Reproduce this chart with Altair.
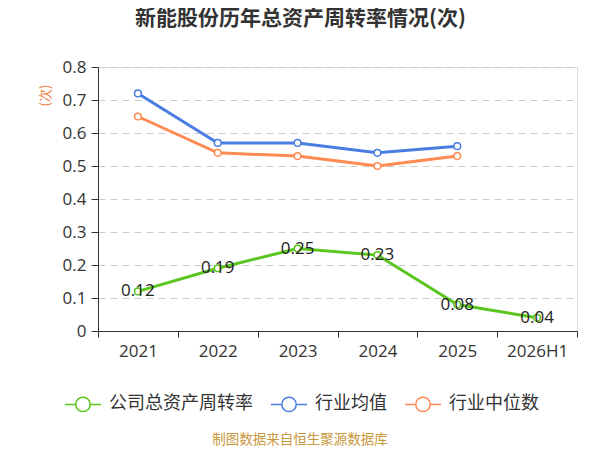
import altair as alt
import pandas as pd

categories = ["2021", "2022", "2023", "2024", "2025", "2026H1"]
company = [0.12, 0.19, 0.25, 0.23, 0.08, 0.04]
industry_mean = [0.72, 0.57, 0.57, 0.54, 0.56]
industry_median = [0.65, 0.54, 0.53, 0.50, 0.53]
series_names = ["公司总资产周转率", "行业均值", "行业中位数"]
series_colors = ["#5BC51F", "#4A7DE2", "#FF8A52"]
title_text = "新能股份历年总资产周转率情况(次)"
source_text = "制图数据来自恒生聚源数据库"
y_ticks = [0, 0.1, 0.2, 0.3, 0.4, 0.5, 0.6, 0.7, 0.8]

rows = []
for c, v in zip(categories, company):
    rows.append({"cat": c, "series": series_names[0], "value": v})
for c, v in zip(categories, industry_mean):
    rows.append({"cat": c, "series": series_names[1], "value": v})
for c, v in zip(categories, industry_median):
    rows.append({"cat": c, "series": series_names[2], "value": v})
df = pd.DataFrame(rows)

FONT = "Open Sans, Noto Sans CJK SC, sans-serif"
CJK = "Noto Sans CJK SC, sans-serif"

legend_path = ("M -1 0 L -0.4 0 M 0.4 0 L 1 0 "
               "M -0.4 0 A 0.4 0.4 0 1 0 0.4 0 A 0.4 0.4 0 1 0 -0.4 0 Z")

x_enc = alt.X("cat:N", sort=categories, title=None,
              scale=alt.Scale(paddingInner=0, paddingOuter=0),
              axis=alt.Axis(labelAngle=0, tickBand="extent", labelFontSize=17,
                            labelFont=FONT, labelColor="#333", labelPadding=6,
                            domainColor="#333", tickColor="#333", tickSize=6,
                            grid=False))
y_enc = alt.Y("value:Q", scale=alt.Scale(domain=[0, 0.8], nice=False),
              axis=alt.Axis(values=y_ticks, format=".1~f", title="(次)",
                            titleColor="#F07A3A", titleFont=CJK, titleFontSize=13,
                            titleFontWeight="normal", titleAngle=-90,
                            titleX=-53, titleY=28, titleAlign="center",
                            titleBaseline="middle",
                            labelFontSize=17, labelFont=FONT, labelColor="#333",
                            labelPadding=5, domainColor="#333", tickColor="#333",
                            tickSize=7, gridDash=[7, 5], gridColor="#CCCCCC",
                            gridWidth=1))
color_enc = alt.Color("series:N",
                      scale=alt.Scale(domain=series_names, range=series_colors),
                      legend=alt.Legend(title=None, orient="none", legendX=-34,
                                        legendY=318, direction="horizontal",
                                        symbolType=legend_path, symbolSize=1296,
                                        symbolStrokeWidth=1.5,
                                        symbolFillColor="white",
                                        labelFont=CJK, labelFontSize=18,
                                        labelColor="#333", labelOffset=7,
                                        columnPadding=15))

base = alt.Chart(df)
lines = base.mark_line(strokeWidth=3).encode(x=x_enc, y=y_enc, color=color_enc)
points = base.mark_point(filled=True, fill="white", size=45, strokeWidth=1.5,
                         opacity=1).encode(x=x_enc, y=y_enc,
                                           stroke=alt.Color("series:N",
                                                            scale=alt.Scale(domain=series_names, range=series_colors),
                                                            legend=None))
labels = base.transform_filter(alt.datum.series == series_names[0]).mark_text(
    fontSize=17, font=FONT, color="#222").encode(
    x=x_enc, y=y_enc, text=alt.Text("value:Q", format=".2f"))
source = alt.Chart(pd.DataFrame({"t": [source_text]})).mark_text(
    fontSize=13.5, font=CJK, color="#C9973C").encode(
    text="t:N", x=alt.value(202), y=alt.value(373))

chart = alt.layer(lines, points, labels, source).properties(
    width=479, height=264,
    autosize=alt.AutoSizeParams(type="none"),
    padding={"left": 90, "top": 59, "right": 15, "bottom": 117},
    title=alt.TitleParams(title_text, fontSize=21, fontWeight="bold", font=CJK,
                          color="#333", anchor="middle", dx=-37, offset=29),
).configure_view(stroke=None).configure(background="white")

chart.save("out.html", embed_options={"renderer": "svg", "actions": False})
